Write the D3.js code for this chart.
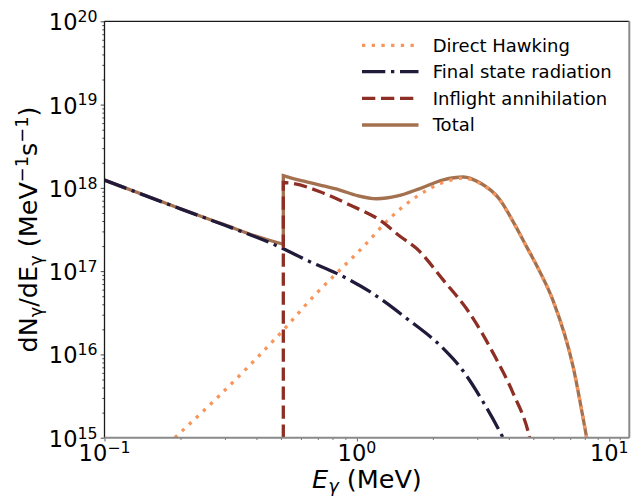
<!DOCTYPE html>
<html>
<head>
<meta charset="utf-8">
<script src="https://cdn.jsdelivr.net/npm/d3@7"></script>
<style>
  body { margin: 0; background: #fff; }
  text { font-family: "DejaVu Sans", sans-serif; fill: #000; }
</style>
</head>
<body>
<div id="chart"></div>
<script>
// --- data (E in MeV, dN/dE in MeV^-1 s^-1) ---
const hawkingEnergy = [0.19, 0.278, 0.377, 0.511, 0.691, 0.85, 1.06, 1.35, 1.72, 2.27, 2.63, 3.07, 3.68, 4.2, 4.7, 5.31, 5.99, 7.19, 8.12, 8.3];
const hawkingFlux = [1.0e15, 2.97e15, 7.46e15, 1.96e16, 5.41e16, 1.01e17, 1.96e17, 4.31e17, 7.82e17, 1.2e18, 1.31e18, 1.13e18, 7.14e17, 3.7e17, 1.96e17, 9.7e16, 4.4e16, 7.1e15, 1.03e15, 7.2e14];

const fsrEnergy = [0.1, 0.2, 0.3, 0.466, 0.651, 0.831, 1.126, 1.573, 2.197, 2.56, 3.16, 3.79, 3.9];
const fsrFlux = [1.24e18, 5.6e17, 3.55e17, 2.11e17, 1.30e17, 9.4e16, 5.66e16, 2.71e16, 1.18e16, 7.1e15, 2.7e15, 1.0e15, 8.4e14];

const inflightEnergy = [0.511, 0.511, 0.56, 0.714, 0.938, 1.233, 1.49, 1.72, 2.2, 2.8, 3.47, 4.16, 4.77, 4.9];
const inflightFlux = [1e15, 1.16e18, 1.13e18, 8.97e17, 6.22e17, 4.10e17, 2.59e17, 1.88e17, 7.8e16, 3.11e16, 1.03e16, 3.41e15, 1.18e15, 8.5e14];

const totalEnergy = [0.1, 0.2, 0.3, 0.4, 0.511, 0.511, 0.56, 0.632, 0.714, 0.856, 1.0, 1.197, 1.45, 1.776, 2.2, 2.64, 3.07, 3.68, 4.2, 4.7, 5.31, 5.99, 7.19, 8.12, 8.3];
const totalFlux = [1.24e18, 5.61e17, 3.59e17, 2.62e17, 2.1e17, 1.40e18, 1.29e18, 1.18e18, 1.08e18, 9.4e17, 8.1e17, 7.4e17, 8.0e17, 9.8e17, 1.25e18, 1.35e18, 1.15e18, 7.25e17, 3.72e17, 1.97e17, 9.8e16, 4.4e16, 7.1e15, 1.03e15, 7.2e14];

const legendLabels = ["Direct Hawking", "Final state radiation", "Inflight annihilation", "Total"];
const xMajorTicks = [0.1, 1, 10];
const xTickExponents = ["\u22121", "0", "1"];
const yMajorTicks = [1e15, 1e16, 1e17, 1e18, 1e19, 1e20];
const yTickExponents = ["15", "16", "17", "18", "19", "20"];

// --- layout ---
const width = 631, height = 496;
const plot = {left: 104.5, right: 629.3, top: 21.3, bottom: 437.7};
const lw = 3.3;

const svg = d3.select("#chart").append("svg")
    .attr("width", width)
    .attr("height", height);

const xScale = d3.scaleLog().domain([0.1, 12]).range([plot.left, plot.right]);
const yScale = d3.scaleLog().domain([1e15, 1e20]).range([plot.bottom, plot.top]);

svg.append("clipPath").attr("id", "clip")
    .append("rect")
    .attr("x", plot.left).attr("y", plot.top)
    .attr("width", plot.right - plot.left).attr("height", plot.bottom - plot.top);

// path builder: monotone curves, with a straight jump where an energy repeats
function buildPath(energy, flux) {
    const pts = energy.map((e, i) => [xScale(e), yScale(flux[i])]);
    const segs = [[pts[0]]];
    for (let i = 1; i < pts.length; i++) {
        if (energy[i] === energy[i - 1]) segs.push([pts[i]]);
        else segs[segs.length - 1].push(pts[i]);
    }
    const gen = d3.line().curve(d3.curveMonotoneX);
    return segs.map((s, k) => {
        const d = s.length > 1 ? gen(s) : "M" + s[0][0] + "," + s[0][1];
        return k ? d.replace(/^M/, "L") : d;
    }).join("");
}

const series = [
    {energy: totalEnergy, flux: totalFlux, color: "#a3714f", dash: null},
    {energy: hawkingEnergy, flux: hawkingFlux, color: "#f7955b", dash: "3.3,6.4"},
    {energy: fsrEnergy, flux: fsrFlux, color: "#221a3a", dash: "23.3,5.7,3.3,5.7"},
    {energy: inflightEnergy, flux: inflightFlux, color: "#8d2f24", dash: "13.3,5.7"}
];

const linesG = svg.append("g").attr("clip-path", "url(#clip)");
series.forEach(s => {
    linesG.append("path")
        .attr("d", buildPath(s.energy, s.flux))
        .attr("fill", "none")
        .attr("stroke", s.color)
        .attr("stroke-width", lw)
        .attr("stroke-dasharray", s.dash);
});

// minor ticks
const xMinor = [];
[0.1, 1].forEach(base => { for (let k = 2; k <= 9; k++) xMinor.push(base * k); });
xMinor.push(11);
const yMinor = [];
[1e15, 1e16, 1e17, 1e18, 1e19].forEach(base => { for (let k = 2; k <= 9; k++) yMinor.push(base * k); });

// x axis
const xAxisG = svg.append("g")
    .attr("transform", "translate(0," + plot.bottom + ")")
    .call(d3.axisBottom(xScale).tickValues(xMinor).tickSize(2.2).tickFormat(""));
xAxisG.append("g")
    .call(d3.axisBottom(xScale).tickValues(xMajorTicks).tickSize(3.8).tickFormat(""));
xAxisG.selectAll(".domain").remove();
xAxisG.selectAll("line").attr("stroke", "#555").attr("stroke-width", 0.9);

const xLabels = svg.append("g");
xMajorTicks.forEach((v, i) => {
    const t = xLabels.append("text")
        .attr("x", xScale(v))
        .attr("y", 461)
        .attr("text-anchor", "middle")
        .style("font-size", "22.5px");
    t.append("tspan").text("10");
    t.append("tspan").attr("dy", -8.2).style("font-size", "15.75px").text(xTickExponents[i]);
});

// y axis
const yAxisG = svg.append("g")
    .attr("transform", "translate(" + plot.left + ",0)")
    .call(d3.axisLeft(yScale).tickValues(yMinor).tickSize(2.2).tickFormat(""));
yAxisG.append("g")
    .call(d3.axisLeft(yScale).tickValues(yMajorTicks).tickSize(3.8).tickFormat(""));
yAxisG.selectAll(".domain").remove();
yAxisG.selectAll("line").attr("stroke", "#333").attr("stroke-width", 0.9);

const yLabels = svg.append("g");
yMajorTicks.forEach((v, i) => {
    const t = yLabels.append("text")
        .attr("x", 97.5)
        .attr("y", yScale(v) + 9)
        .attr("text-anchor", "end")
        .style("font-size", "22.5px");
    t.append("tspan").text("10");
    t.append("tspan").attr("dy", -8.2).style("font-size", "15.75px").text(yTickExponents[i]);
});

// spines
svg.append("line").attr("x1", plot.left).attr("x2", plot.right).attr("y1", plot.top).attr("y2", plot.top)
    .attr("stroke", "#1a1a1a").attr("stroke-width", 1.3);
svg.append("line").attr("x1", plot.left).attr("x2", plot.left).attr("y1", plot.top).attr("y2", plot.bottom)
    .attr("stroke", "#1a1a1a").attr("stroke-width", 1.3);
svg.append("line").attr("x1", plot.left).attr("x2", plot.right).attr("y1", plot.bottom).attr("y2", plot.bottom)
    .attr("stroke", "#8a8a8a").attr("stroke-width", 2);
svg.append("line").attr("x1", plot.right).attr("x2", plot.right).attr("y1", plot.top).attr("y2", plot.bottom)
    .attr("stroke", "#8a8a8a").attr("stroke-width", 2);

// axis titles
const xTitle = svg.append("text")
    .attr("x", (plot.left + plot.right) / 2)
    .attr("y", 487.5)
    .attr("text-anchor", "middle")
    .style("font-size", "25.5px");
xTitle.append("tspan").style("font-style", "italic").text("E");
xTitle.append("tspan").attr("dy", 4.5).style("font-size", "17.8px").style("font-style", "italic").text("\u03b3");
xTitle.append("tspan").attr("dy", -4.5).text(" (MeV)");

const yTitle = svg.append("text")
    .attr("transform", "translate(37," + (plot.top + plot.bottom) / 2 + ") rotate(-90)")
    .attr("text-anchor", "middle")
    .style("font-size", "25.5px");
yTitle.append("tspan").text("dN");
yTitle.append("tspan").attr("dy", 5).style("font-size", "17.8px").text("\u03b3");
yTitle.append("tspan").attr("dy", -5).text("/dE");
yTitle.append("tspan").attr("dy", 5).style("font-size", "17.8px").text("\u03b3");
yTitle.append("tspan").attr("dy", -5).text(" (MeV");
yTitle.append("tspan").attr("dy", -9.5).style("font-size", "17.8px").text("\u22121");
yTitle.append("tspan").attr("dy", 9.5).text("s");
yTitle.append("tspan").attr("dy", -9.5).style("font-size", "17.8px").text("\u22121");
yTitle.append("tspan").attr("dy", 9.5).text(")");

// legend
const legendOrder = [1, 2, 3, 0];
const legendRows = [45.3, 71.7, 98.3, 125];
const legendG = svg.append("g");
legendOrder.forEach((si, i) => {
    const s = series[si];
    legendG.append("line")
        .attr("x1", 362).attr("x2", 418.5)
        .attr("y1", legendRows[i]).attr("y2", legendRows[i])
        .attr("stroke", s.color)
        .attr("stroke-width", lw)
        .attr("stroke-dasharray", s.dash);
    legendG.append("text")
        .attr("x", 432.7)
        .attr("y", legendRows[i])
        .attr("dy", "0.35em")
        .style("font-size", "18px")
        .text(legendLabels[i]);
});
</script>
</body>
</html>
